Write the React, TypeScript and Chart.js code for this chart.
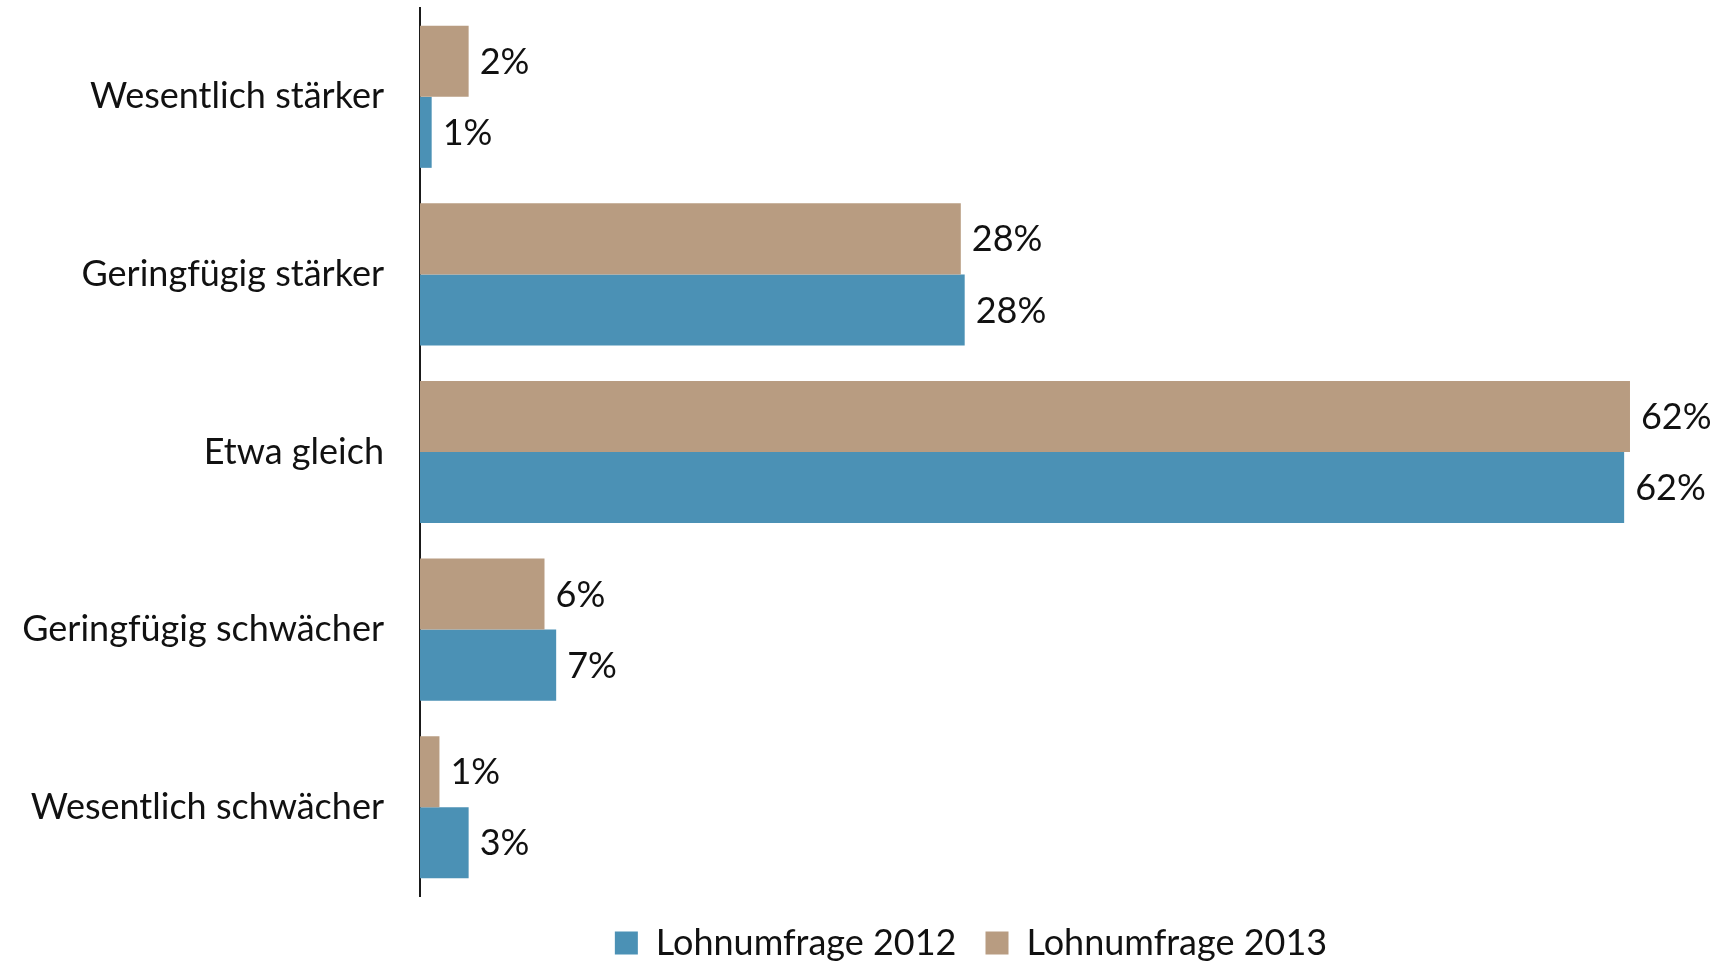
import React, { useEffect, useRef } from "react";
import { Chart, registerables } from "chart.js";

Chart.register(...registerables);

const categories = [
  "Wesentlich stärker",
  "Geringfügig stärker",
  "Etwa gleich",
  "Geringfügig schwächer",
  "Wesentlich schwächer",
];
const seriesNames = ["Lohnumfrage 2013", "Lohnumfrage 2012"];
const values2013 = [2.5, 27.8, 62.2, 6.4, 1.0];
const values2012 = [0.6, 28.0, 61.9, 7.0, 2.5];
const labels2013 = ["2%", "28%", "62%", "6%", "1%"];
const labels2012 = ["1%", "28%", "62%", "7%", "3%"];
const colors = ["#b89c81", "#4b91b5"];

const FONT = "Lato";
const LEGEND_CENTER_X = 971;

const valueLabelPlugin = {
  id: "valueLabels",
  afterLayout(chart: any) {
    const lg = chart.legend;
    if (lg) {
      const d = LEGEND_CENTER_X - (lg.left + lg.right) / 2;
      lg.left += d;
      lg.right += d;
    }
  },
  afterDatasetsDraw(chart: any) {
    const ctx = chart.ctx;
    const allLabels = [labels2013, labels2012];
    ctx.save();
    ctx.font = `36px ${FONT}`;
    ctx.fillStyle = "#111";
    ctx.textAlign = "left";
    ctx.textBaseline = "middle";
    chart.data.datasets.forEach((_ds: any, di: number) => {
      const meta = chart.getDatasetMeta(di);
      meta.data.forEach((bar: any, i: number) => {
        ctx.fillText(allLabels[di][i], bar.x + 11, bar.y + 1);
      });
    });
    ctx.restore();
  },
};

export default function App() {
  const ref = useRef<HTMLCanvasElement | null>(null);
  useEffect(() => {
    if (!ref.current) return;
    const chart = new Chart(ref.current, {
      type: "bar",
      data: {
        labels: categories,
        datasets: [
          {
            label: seriesNames[0],
            data: values2013,
            backgroundColor: colors[0],
            borderWidth: 0,
          },
          {
            label: seriesNames[1],
            data: values2012,
            backgroundColor: colors[1],
            borderWidth: 0,
          },
        ],
      },
      options: {
        indexAxis: "y",
        animation: false,
        responsive: true,
        maintainAspectRatio: false,
        layout: { padding: { top: 8, right: 56, left: 0, bottom: -6 } },
        datasets: {
          bar: { categoryPercentage: 0.8, barPercentage: 1.0 },
        },
        scales: {
          x: {
            display: false,
            min: 0,
            max: 64,
          },
          y: {
            grid: { display: false, drawTicks: false },
            border: { display: true, color: "#1a1a1a", width: 2 },
            ticks: {
              color: "#111",
              font: { family: FONT, size: 36 },
              padding: 36,
            },
            afterFit: (s: any) => {
              s.width = 420;
              s.paddingTop = 0;
              s.paddingBottom = 0;
            },
          },
        },
        plugins: {
          tooltip: { enabled: false },
          legend: {
            position: "bottom",
            labels: {
              boxWidth: 23,
              boxHeight: 23,
              color: "#111",
              font: { family: FONT, size: 36 },
              padding: 29,
              sort: (a: any, b: any) => b.datasetIndex - a.datasetIndex,
            },
          },
        },
      },
      plugins: [valueLabelPlugin],
    });
    return () => chart.destroy();
  }, []);
  return (
    <div
      style={{
        position: "absolute",
        left: 0,
        top: 0,
        width: "1721px",
        height: "965px",
        background: "#fff",
      }}
    >
      <canvas ref={ref} />
    </div>
  );
}
